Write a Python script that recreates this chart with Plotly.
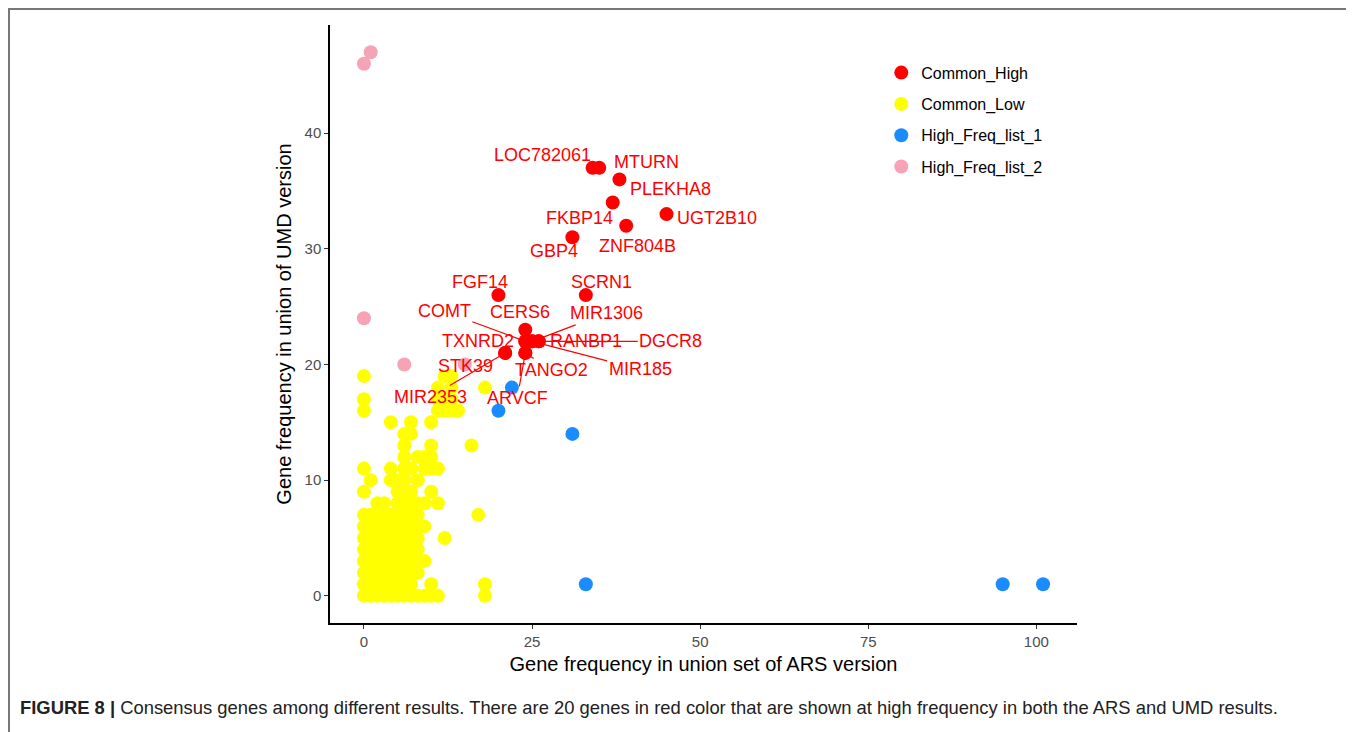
import plotly.graph_objects as go

# ---------------- data ----------------
high_genes = ["LOC782061", "MTURN", "PLEKHA8", "FKBP14", "UGT2B10", "ZNF804B", "GBP4",
              "FGF14", "SCRN1", "CERS6", "COMT", "MIR1306", "TXNRD2", "RANBP1", "DGCR8",
              "STK39", "MIR2353", "TANGO2", "MIR185", "ARVCF"]
high_x = [34, 35, 38, 37, 45, 39, 31, 20, 33, 24, 24, 25, 24, 26, 26, 21, 21, 24, 25, 24]
high_y = [37, 37, 36, 34, 33, 32, 31, 26, 26, 23, 22, 22, 22, 22, 22, 21, 21, 21, 22, 21]

list1_x = [20, 22, 31, 33, 95, 101]
list1_y = [16, 18, 14, 1, 1, 1]

list2_x = [0, 1, 0, 6, 15]
list2_y = [46, 47, 24, 20, 20]

low_x = ([0] * 13 + [1] * 9 + [2] * 9 + [3] * 9 + [4] * 11 + [5] * 11 + [6] * 15 + [7] * 13 +
         [8] * 10 + [9] * 6 + [10] * 7 + [11] * 6 + [12] * 4 + [13] * 4 + [14] + [16] + [17] + [18] * 3)
low_y = ([0, 1, 2, 3, 4, 5, 6, 7, 9, 11, 16, 17, 19] +
         [0, 1, 2, 3, 4, 5, 6, 7, 10] +
         [0, 1, 2, 3, 4, 5, 6, 7, 8] +
         [0, 1, 2, 3, 4, 5, 6, 7, 8] +
         [0, 1, 2, 3, 4, 5, 6, 7, 10, 11, 15] +
         [0, 1, 2, 3, 4, 5, 6, 7, 8, 9, 10] +
         [0, 1, 2, 3, 4, 5, 6, 7, 8, 9, 10, 11, 12, 13, 14] +
         [0, 1, 2, 3, 4, 5, 6, 7, 8, 9, 11, 14, 15] +
         [0, 2, 3, 4, 5, 6, 7, 8, 10, 12] +
         [0, 3, 6, 8, 11, 12] +
         [0, 1, 9, 11, 12, 13, 15] +
         [0, 8, 11, 16, 17, 18] +
         [5, 16, 17, 19] +
         [16, 17, 18, 19] +
         [16] + [13] + [7] + [0, 1, 18])

x_ticks = [0, 25, 50, 75, 100]
y_ticks = [0, 10, 20, 30, 40]

# label offsets (pixels, style only): (ax, ay, draw_segment)
label_style = {
    "LOC782061": (-50, -13, False), "MTURN": (47, -6, False), "PLEKHA8": (51, 10, False),
    "FKBP14": (-33, 15, False), "UGT2B10": (50, 4, False), "ZNF804B": (11, 20, False),
    "GBP4": (-18, 14, False), "FGF14": (-18, -13, False), "SCRN1": (16, -13, False),
    "CERS6": (-5, -18, False), "COMT": (-81, -30, True), "MIR1306": (74, -28, True),
    "TXNRD2": (-47, 0, False), "RANBP1": (47, 0, False), "DGCR8": (132, 0, True),
    "STK39": (-40, 13, False), "MIR2353": (-75, 44, True), "TANGO2": (26, 17, True),
    "MIR185": (108, 28, True), "ARVCF": (-8, 45, True),
}

RED = "#FF0000"
YELLOW = "#FFFF00"
BLUE = "#1A8CFF"
PINK = "#F5A3B5"
FONT = "Arial, Liberation Sans, sans-serif"
MS = 14

fig = go.Figure()
fig.add_trace(go.Scatter(x=low_x, y=low_y, mode="markers", name="Common_Low",
                         marker=dict(color=YELLOW, size=MS), legendrank=2,
                         legendgroup="b"))
fig.add_trace(go.Scatter(x=list2_x, y=list2_y, mode="markers", name="High_Freq_list_2",
                         marker=dict(color=PINK, size=MS), legendrank=4,
                         legendgroup="d"))
fig.add_trace(go.Scatter(x=list1_x, y=list1_y, mode="markers", name="High_Freq_list_1",
                         marker=dict(color=BLUE, size=MS), legendrank=3,
                         legendgroup="c"))
fig.add_trace(go.Scatter(x=high_x, y=high_y, mode="markers", name="Common_High",
                         marker=dict(color=RED, size=MS), legendrank=1,
                         legendgroup="a"))

for g, x, y in zip(high_genes, high_x, high_y):
    ax, ay, seg = label_style[g]
    fig.add_annotation(x=x, y=y, xref="x", yref="y", text=g, showarrow=True,
                       ax=ax, ay=ay, arrowhead=0, arrowwidth=1.2,
                       arrowcolor=RED if seg else "rgba(0,0,0,0)", standoff=0,
                       font=dict(family=FONT, size=18, color=RED))

# caption
fig.add_annotation(x=-0.4177, y=-0.1421, xref="paper", yref="paper",
                   xanchor="left", yanchor="middle", showarrow=False,
                   text="<b>FIGURE 8 |</b> Consensus genes among different results. There are 20 genes in red color that are shown at high frequency in both the ARS and UMD results.",
                   font=dict(family=FONT, size=18.4, color="#222222"))

# outer frame
fig.add_shape(type="rect", xref="paper", yref="paper", x0=-0.4297, x1=1.3668,
              y0=-0.25, y1=1.0268, line=dict(color="#777777", width=2),
              fillcolor="rgba(0,0,0,0)", layer="below")

fig.update_layout(
    width=1346, height=724,
    margin=dict(l=322, r=277, t=17, b=109),
    paper_bgcolor="white", plot_bgcolor="white",
    font=dict(family=FONT, color="#000000"),
    showlegend=True,
    legend=dict(x=0.738, y=0.9487, xanchor="left", yanchor="top",
                font=dict(family=FONT, size=16, color="#000000"),
                tracegroupgap=7.5, bgcolor="rgba(0,0,0,0)"),
    xaxis=dict(range=[-5.05, 106.05], tickvals=x_ticks, ticktext=[str(v) for v in x_ticks],
               showgrid=False, zeroline=False, showline=True, linecolor="#000000",
               linewidth=1.5, ticks="outside", ticklen=4, tickcolor="#333333",
               tickfont=dict(family=FONT, size=15, color="#4D4D4D"),
               title=dict(text="Gene frequency in union set of ARS version",
                          font=dict(family=FONT, size=20, color="#000000"), standoff=8)),
    yaxis=dict(range=[-2.35, 49.35], tickvals=y_ticks, ticktext=[str(v) for v in y_ticks],
               showgrid=False, zeroline=False, showline=True, linecolor="#000000",
               linewidth=1.5, ticks="outside", ticklen=4, tickcolor="#333333",
               tickfont=dict(family=FONT, size=15, color="#4D4D4D"),
               title=dict(text="Gene frequency in union of UMD version",
                          font=dict(family=FONT, size=20, color="#000000"), standoff=8)),
)

fig.write_html("out.html")
